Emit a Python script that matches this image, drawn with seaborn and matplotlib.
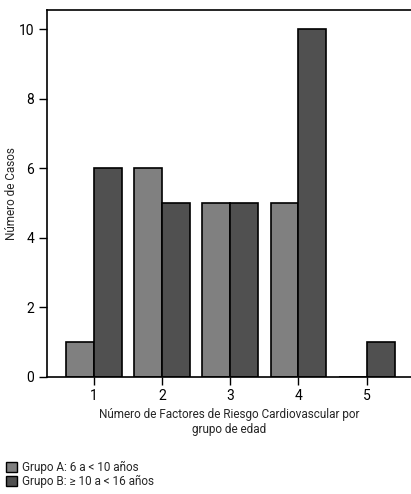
import pandas as pd
import seaborn as sns
import matplotlib.pyplot as plt
from matplotlib.patches import Patch

factores = [1, 2, 3, 4, 5]
grupo_a = [1, 6, 5, 5, 0]
grupo_b = [6, 5, 5, 10, 1]
etiquetas = ["Grupo A: 6 a < 10 años", "Grupo B: ≥ 10 a < 16 años"]
colores = ["#808080", "#505050"]

df = pd.DataFrame({
    "factores": factores * 2,
    "casos": grupo_a + grupo_b,
    "grupo": [etiquetas[0]] * 5 + [etiquetas[1]] * 5,
})

sns.set_style("ticks")
plt.rcParams["font.family"] = ["Roboto", "DejaVu Sans"]

fig = plt.figure(figsize=(4.11, 4.94), dpi=100)
ax = fig.add_axes([0.114, 0.237, 0.886, 0.743])

sns.barplot(data=df, x="factores", y="casos", hue="grupo", palette=colores,
            native_scale=True, width=0.82, edgecolor="black", linewidth=1.2,
            legend=False, ax=ax)

ax.set_xlim(0.31, 5.65)
ax.set_ylim(0, 10.55)
ax.set_xticks(factores)
ax.set_yticks([0, 2, 4, 6, 8, 10])
ax.tick_params(labelsize=10, length=6, width=1, colors="black", pad=3)
for s in ax.spines.values():
    s.set_linewidth(1.2)
    s.set_color("black")
ax.spines["right"].set_visible(False)

ax.set_ylabel("Número de Casos", fontsize=8.5)
ax.yaxis.set_label_coords(-0.08, 0.5)
ax.set_xlabel("Número de Factores de Riesgo Cardiovascular por\ngrupo de edad",
              fontsize=8.5, labelpad=3, linespacing=1.25)

handles = [Patch(facecolor=c, edgecolor="black", linewidth=1) for c in colores]
fig.legend(handles, etiquetas, loc="lower left", bbox_to_anchor=(0.0, 0.0),
           frameon=False, fontsize=8.5, handlelength=0.9, handleheight=0.9,
           handletextpad=0.5, labelspacing=0.1, borderaxespad=0.2,
           borderpad=0.3)

fig.savefig("out.png", dpi=100)
